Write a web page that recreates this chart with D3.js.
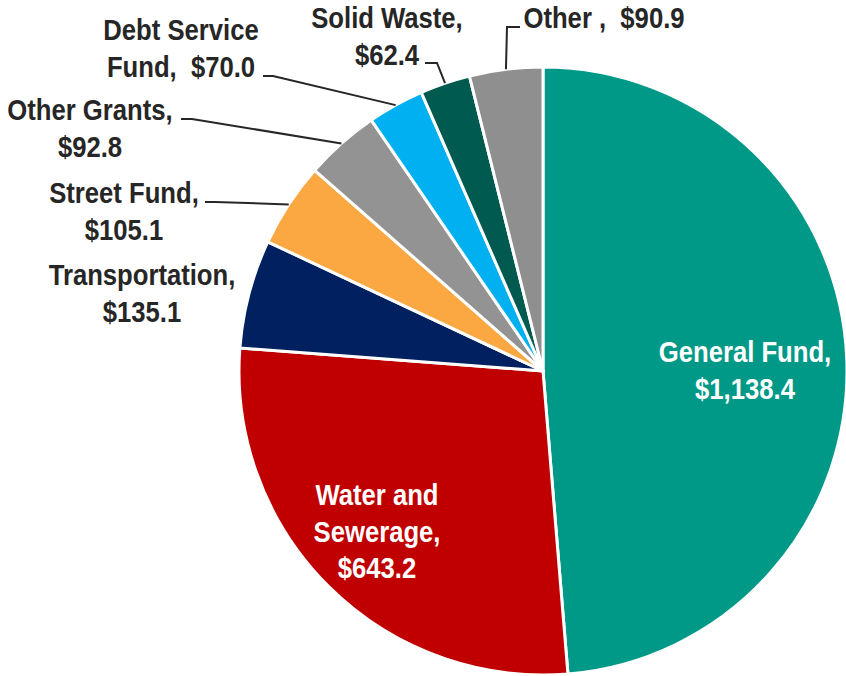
<!DOCTYPE html>
<html><head><meta charset="utf-8">
<script src="https://cdn.jsdelivr.net/npm/d3@7"></script>
<style>
html,body{margin:0;padding:0;background:#fff;}
svg text{font-family:"Liberation Sans Narrow","Arial Narrow","Liberation Sans",Arial,sans-serif;font-weight:bold;white-space:pre;}
</style></head>
<body><svg id="chart" width="846" height="676"></svg>
<script>
// Data
const categories = ["General Fund","Water and Sewerage","Transportation","Street Fund","Other Grants","Debt Service Fund","Solid Waste","Other"];
const values = [1138.4, 643.2, 135.1, 105.1, 92.8, 70.0, 62.4, 90.9];
const labelLines = [
  ["General Fund,","$1,138.4"],
  ["Water and","Sewerage,","$643.2"],
  ["Transportation,","$135.1"],
  ["Street Fund,","$105.1"],
  ["Other Grants,","$92.8"],
  ["Debt Service","Fund,  $70.0"],
  ["Solid Waste,","$62.4"],
  ["Other ,  $90.9"]
];
const colors = ["#009987","#C00000","#002060","#FBA843","#939393","#00B0F0","#005A50","#8F8F8F"];

// Layout (positions of labels; not data)
const cx = 543, cy = 371, R = 304;
const lineH = 36.5, fs = 29.5, sx = 0.87;
const labelLayout = [
  {x:745, y:352, color:"#fff"},
  {x:377, y:495, color:"#fff"},
  {x:142, y:275, color:"#262626"},
  {x:124, y:193, color:"#262626"},
  {x:90,  y:110, color:"#262626"},
  {x:181, y:30,  color:"#262626"},
  {x:387, y:18,  color:"#262626"},
  {x:604, y:18,  color:"#262626"}
];
// leader line start points: [x,y,elbowX]
const leaders = {
  3:[205,202,215],
  4:[181,119,192],
  5:[263,76,273],
  6:[425,63,437],
  7:[520,27,507]
};

const svg = d3.select("#chart");
const data = categories.map((c,i)=>({name:c,value:values[i],i}));
const pie = d3.pie().value(d=>d.value).sort(null);
const arcs = pie(data);
const arc = d3.arc().innerRadius(0).outerRadius(R);
const g = svg.append("g").attr("transform",`translate(${cx},${cy})`);
g.selectAll("path").data(arcs).join("path")
  .attr("d",arc)
  .attr("fill",d=>colors[d.data.i])
  .attr("stroke","#fff").attr("stroke-width",3).attr("stroke-linejoin","round");

// leader lines
arcs.forEach(a=>{
  const L = leaders[a.data.i];
  if(!L) return;
  const m = (a.startAngle+a.endAngle)/2;
  const ex = cx + R*Math.sin(m), ey = cy - R*Math.cos(m);
  svg.append("polyline")
    .attr("points",`${L[0]},${L[1]} ${L[2]},${L[1]} ${ex},${ey}`)
    .attr("fill","none").attr("stroke","#262626").attr("stroke-width",2);
});

// labels
labelLines.forEach((lines,i)=>{
  const p = labelLayout[i];
  const t = svg.append("g").attr("transform",`translate(${p.x},${p.y}) scale(${sx},1)`)
    .append("text").attr("text-anchor","middle")
    .attr("font-size",fs).attr("fill",p.color);
  lines.forEach((ln,k)=>{
    t.append("tspan").attr("x",0).attr("y",k*lineH)
      .attr("dominant-baseline","central").text(ln);
  });
});
</script></body></html>
